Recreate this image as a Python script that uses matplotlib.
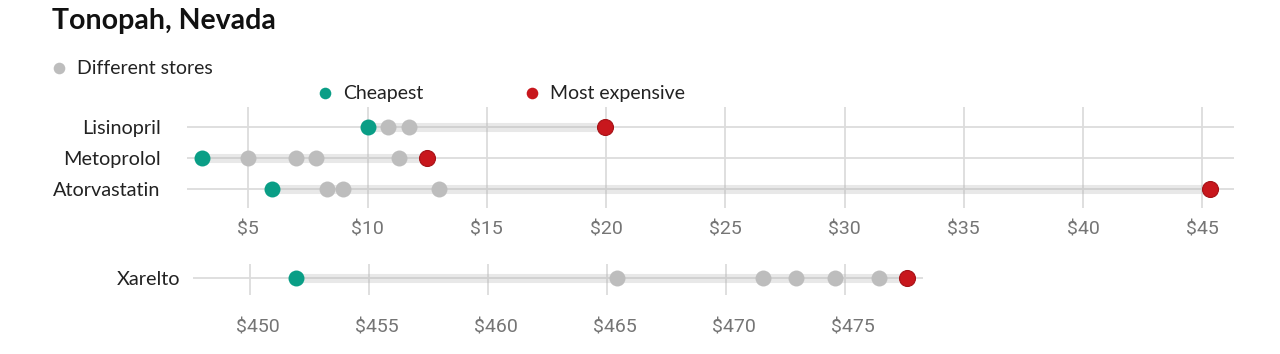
import matplotlib
matplotlib.use("Agg")
import matplotlib.pyplot as plt
from matplotlib.transforms import ScaledTranslation

# ---- data ----
title = "Tonopah, Nevada"
top_drugs = ["Lisinopril", "Metoprolol", "Atorvastatin"]
top_prices = [
    [10.0, 10.87, 11.72, 19.96],
    [3.05, 5.0, 6.99, 7.84, 11.31, 12.49],
    [5.99, 8.29, 8.98, 13.01, 45.31],
]
top_ticks = [5, 10, 15, 20, 25, 30, 35, 40, 45]
bottom_drugs = ["Xarelto"]
bottom_prices = [
    [451.9, 465.4, 471.55, 472.95, 474.55, 476.4, 477.6],
]
bottom_ticks = [450, 455, 460, 465, 470, 475]
legend_labels = ["Different stores", "Cheapest", "Most expensive"]

# ---- style ----
W, H = 1280, 354
DPI = 100
GREEN = "#0a9e86"
RED = "#c8171d"
RED_EDGE = "#a51217"
GRAY = "#bdbdbd"
GRID = "#dcdcdc"
TICK_C = "#757575"
LABEL_C = "#222222"
LABEL_FONT = ["Lato", "DejaVu Sans"]
TICK_FONT = ["Roboto", "DejaVu Sans"]
MS = 132  # scatter size (pt^2)

fig = plt.figure(figsize=(W / DPI, H / DPI), dpi=DPI)


def px_axes(left, top, right, bottom):
    return fig.add_axes([left / W, 1 - bottom / H, (right - left) / W, (bottom - top) / H])


def draw_panel(ax, drugs, prices, ticks, xlim, ylim, tickpad, labelpad, xshift=0):
    ax.set_xlim(*xlim)
    ax.set_ylim(*ylim)
    for s in ax.spines.values():
        s.set_visible(False)
    for t in ticks:
        ax.axvline(t, color=GRID, lw=1.3, zorder=0)
    for i, row in enumerate(prices):
        ax.axhline(i, color=GRID, lw=1.3, zorder=0)
        lo, hi = min(row), max(row)
        ax.plot([lo, hi], [i, i], color=(0.7, 0.7, 0.7), alpha=0.3, lw=6.5,
                solid_capstyle="butt", zorder=1)
        mids = [v for v in row if v != lo and v != hi]
        ax.scatter(mids, [i] * len(mids), s=MS, color=GRAY, lw=0, zorder=3)
        ax.scatter([lo], [i], s=MS, color=GREEN, lw=0, zorder=4)
        ax.scatter([hi], [i], s=MS, color=RED, edgecolor=RED_EDGE, lw=0.8, zorder=4)
    ax.set_xticks(ticks)
    ax.set_xticklabels([f"${t}" for t in ticks], fontfamily=TICK_FONT,
                       fontsize=14, color=TICK_C)
    ax.set_yticks(range(len(drugs)))
    ax.set_yticklabels(drugs, fontfamily=LABEL_FONT, fontsize=14.3, color=LABEL_C)
    ax.tick_params(axis="x", length=0, pad=tickpad)
    ax.tick_params(axis="y", length=0, pad=labelpad)
    if xshift:
        off = ScaledTranslation(xshift / DPI, 0, fig.dpi_scale_trans)
        for lab in ax.get_xticklabels():
            lab.set_transform(lab.get_transform() + off)


# top panel
ax1 = px_axes(187, 107, 1234, 208)
draw_panel(ax1, top_drugs, top_prices, top_ticks,
           (2.43, 46.33), (2.61, -0.63), tickpad=9, labelpad=19)

# bottom panel
ax2 = px_axes(192.7, 264, 923.3, 295)
draw_panel(ax2, bottom_drugs, bottom_prices, bottom_ticks,
           (447.58, 478.28), (0.558, -0.442), tickpad=17, labelpad=9, xshift=7.5)

# overlay for title & legend
ov = fig.add_axes([0, 0, 1, 1], zorder=10)
ov.set_xlim(0, W)
ov.set_ylim(H, 0)
ov.axis("off")
ov.patch.set_alpha(0)
ov.text(52, 21, title, fontfamily=LABEL_FONT, fontweight="bold", fontsize=20.5,
        color="#111111", va="center", ha="left")
leg = [(59, 68, GRAY, legend_labels[0]),
       (325, 93, GREEN, legend_labels[1]),
       (532, 93, RED, legend_labels[2])]
for x, y, c, lab in leg:
    ov.scatter([x], [y], s=70, color=c, lw=0)
    ov.text(x + 18, y, lab, fontfamily=LABEL_FONT, fontsize=14, color=LABEL_C,
            va="center", ha="left")

fig.savefig("out.png", dpi=DPI)
